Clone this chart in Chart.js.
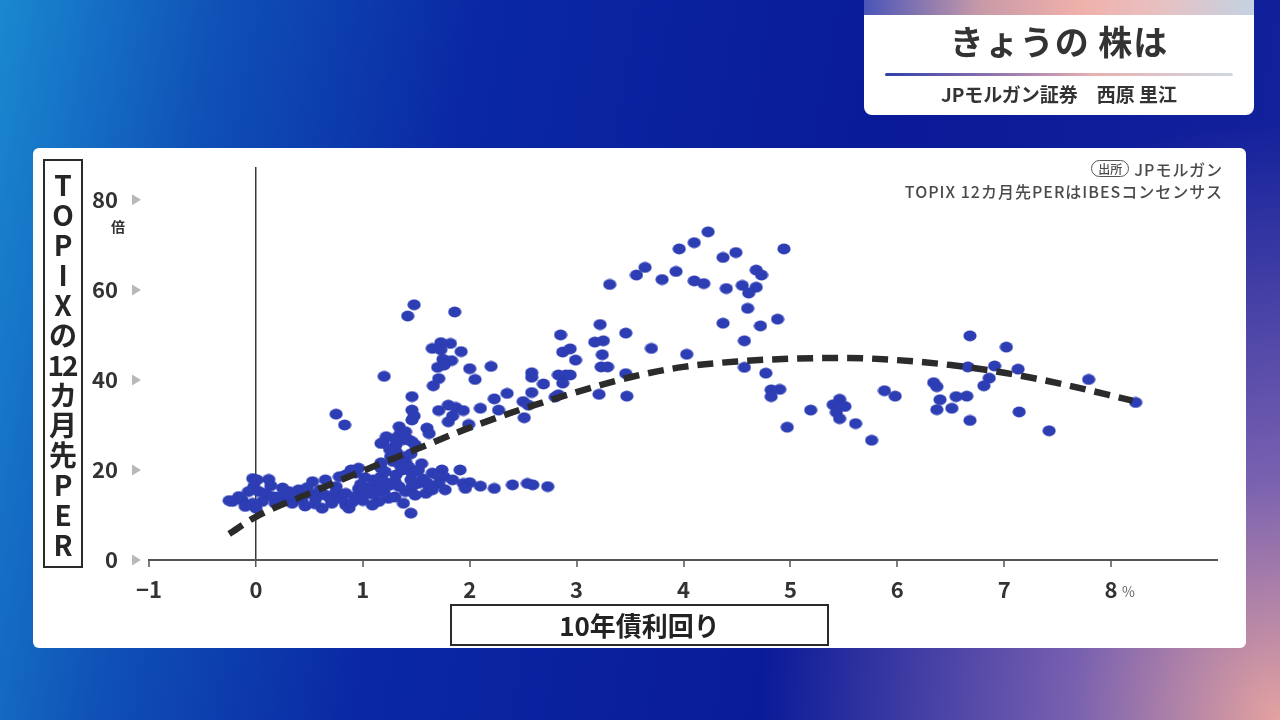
<!DOCTYPE html>
<html><head><meta charset="utf-8">
<script src="https://cdn.jsdelivr.net/npm/chart.js@4.4.1/dist/chart.umd.min.js"></script>
<style>
html,body{margin:0;padding:0;width:1280px;height:720px;overflow:hidden;font-family:"Noto Sans CJK JP","Noto Sans",sans-serif;}
#bg{position:absolute;left:0;top:0;width:1280px;height:720px;
background:
radial-gradient(ellipse 520px 600px at 100% 100%, rgba(240,170,160,0.95) 0%, rgba(190,140,190,0.6) 40%, rgba(30,40,160,0) 100%),
linear-gradient(100deg,#1a88d0 0%,#0f50b6 16%,#0a28a4 34%,#0a1a98 65%,#14229c 100%);}
#card{position:absolute;left:33px;top:148px;width:1213px;height:500px;background:#fff;border-radius:6px;}
#c{position:absolute;left:0;top:0;}
#titlebox{position:absolute;left:864px;top:-8px;width:390px;height:123px;background:#fff;border-radius:8px;overflow:hidden;}
#stripe{position:absolute;left:0;top:0;width:100%;height:23px;background:linear-gradient(90deg,#4a55b8 0%,#c89aa8 30%,#f0b0aa 55%,#e8c0c0 75%,#c4d2e2 100%);}
#title{position:absolute;left:0;top:27px;width:100%;text-align:center;font-size:34px;font-weight:700;color:#333;letter-spacing:1px;line-height:44px;}
#tline{position:absolute;left:21px;top:81px;width:348px;height:3px;background:linear-gradient(90deg,#3040a8 0%,#9a7ab0 35%,#e8b0b0 60%,#d0d8e2 100%);border-radius:2px;}
#subtitle{position:absolute;left:0;top:89px;width:100%;text-align:center;font-size:19px;font-weight:700;color:#333;line-height:26px;}
#ytitle{position:absolute;left:43px;top:159px;width:40px;height:409px;border:2px solid #2a2a2a;box-sizing:border-box;display:flex;flex-direction:column;justify-content:space-between;align-items:center;padding:9px 0 7px 0;}
#ytitle span{display:block;font-size:28px;line-height:29px;font-weight:600;color:#262626;text-align:center;}
#ytitle span.num{letter-spacing:-2px;margin-left:-2px;}
#xtitle{position:absolute;left:450px;top:604px;width:379px;height:42px;border:2px solid #2a2a2a;box-sizing:border-box;text-align:center;font-size:26px;font-weight:700;color:#222;line-height:37px;}
#src{position:absolute;right:57px;top:158px;text-align:right;color:#4a4a4a;font-size:16px;font-weight:500;line-height:22px;letter-spacing:1px;}
#src .pill{display:inline-block;border:1.5px solid #555;border-radius:9px;font-size:12px;line-height:15px;padding:0 6px;letter-spacing:0;vertical-align:2px;margin-right:5px;}
</style></head>
<body>
<div id="bg"></div>
<div id="card"></div>
<canvas id="c" width="1280" height="720"></canvas>
<div id="titlebox"><div id="stripe"></div><div id="title">きょうの 株は</div><div id="tline"></div><div id="subtitle">JPモルガン証券　西原 里江</div></div>
<div id="ytitle"><span>T</span><span>O</span><span>P</span><span>I</span><span>X</span><span>の</span><span class="num">12</span><span>カ</span><span>月</span><span>先</span><span>P</span><span>E</span><span>R</span></div>
<div id="xtitle">10年債利回り</div>
<div id="src"><div><span class="pill">出所</span>JPモルガン</div><div>TOPIX 12カ月先PERはIBESコンセンサス</div></div>
<script>
// 10-year bond yield (%)
const bondYield = [
4.23,4.10,3.96,4.94,4.37,4.49,3.64,3.56,3.31,3.80,3.93,4.10,4.19,4.40,4.55,4.68,4.73,4.68,4.61,4.60,4.37,4.72,4.88,4.57,3.22,3.46,2.85,3.17,3.25,3.70,4.03,2.87,2.94,2.99,3.24,3.23,3.29,3.46,2.83,2.90,2.94,2.87,2.83,3.21,3.47,4.57,4.77,4.82,4.90,4.82,5.19,4.97,
6.68,7.02,6.66,6.91,7.13,6.86,6.81,7.79,8.23,6.34,6.37,6.40,6.55,6.65,6.37,6.51,6.68,7.14,7.42,5.88,5.98,5.46,5.40,5.51,5.43,5.46,5.61,5.76,
1.48,1.42,1.86,1.20,0.75,0.83,1.65,1.73,1.82,1.73,1.92,1.75,1.83,1.70,1.76,2.00,2.20,2.05,1.71,1.66,1.46,1.46,1.48,1.46,1.71,1.80,1.87,1.94,1.84,1.80,2.10,2.23,2.35,2.27,1.99,2.51,2.58,2.58,2.69,2.58,2.50,2.55,2.80,1.17,1.22,1.34,1.35,1.40,1.43,
1.38,1.31,1.19,1.46,1.49,1.60,1.62,1.31,1.26,1.28,1.37,1.40,1.17,1.17,1.21,1.17,1.20,1.15,1.31,1.37,1.43,1.46,1.52,1.65,1.74,1.91,1.76,1.84,1.94,2.00,1.71,1.77,1.62,1.52,1.46,1.34,1.40,1.49,1.59,1.65,1.96,2.10,2.23,2.40,2.54,2.59,2.73,1.45,1.38,1.24,1.15,1.09,
0.31,0.40,0.50,0.56,0.65,0.75,0.84,0.93,1.03,0.62,0.84,0.87,0.71,0.34,0.43,0.53,0.65,0.78,0.84,0.93,0.96,0.89,
-0.22,-0.13,-0.03,0.01,0.12,-0.02,0.03,-0.07,0.09,0.15,0.06,-0.03,0.00,-0.10,-0.16,0.18,0.25,0.28,
0.20,0.36,0.46,0.55,0.60,0.70,0.80,0.90,1.00,1.05,1.10,1.20,1.25,1.30,0.96,0.75,0.48,1.10,1.02,1.30,1.56,1.60,1.70,1.45,1.35,1.55,1.25,1.30,1.45,0.25,0.14,-0.25,1.15,0.98
];
// TOPIX 12-month forward PER (times)
const forwardPER = [
72.9,70.5,69.1,69.1,67.2,68.3,65.0,63.3,61.2,62.3,64.1,62.0,61.4,60.3,61.0,64.4,63.3,60.6,59.3,55.9,52.6,52.0,53.5,48.7,52.3,50.4,50.0,48.4,48.7,47.0,45.7,46.2,46.9,44.4,45.6,42.9,42.9,41.4,41.1,41.1,41.1,39.3,36.7,36.8,36.4,42.8,41.5,37.8,37.9,36.3,33.3,29.5,
49.8,47.3,42.9,43.1,42.4,40.4,38.7,40.1,35.0,39.4,38.5,35.6,36.3,36.4,33.4,33.7,31.0,32.9,28.7,37.6,36.4,35.7,34.5,34.1,32.8,31.4,30.3,26.6,
56.7,54.2,55.1,40.8,32.4,30.0,47.0,48.3,48.1,46.7,46.3,44.6,44.3,42.8,43.3,42.5,43.0,40.1,40.3,38.7,36.3,33.3,32.0,31.1,33.2,34.4,33.9,33.2,32.0,30.7,33.7,35.8,37.0,33.3,30.1,31.6,41.6,40.6,39.1,37.2,35.2,34.4,36.2,25.9,27.4,29.6,28.1,28.5,26.7,
26.7,25.6,26.1,26.3,25.6,29.3,28.1,24.1,23.0,21.9,23.0,21.9,21.6,20.4,19.6,18.5,17.4,16.3,18.9,20.0,20.7,19.3,20.0,19.3,20.0,20.0,18.5,17.8,17.0,17.2,17.0,15.6,16.3,17.0,16.3,16.3,15.2,14.4,14.8,15.6,15.9,16.4,15.9,16.7,17.0,16.7,16.3,10.4,12.6,13.7,13.0,12.2,
15.2,15.6,14.8,13.7,14.4,15.2,14.8,14.1,14.8,11.5,12.2,11.5,12.6,12.6,13.3,17.4,17.8,18.5,18.9,19.3,20.4,20.0,
13.0,13.3,18.1,17.8,17.9,16.3,15.2,15.2,14.8,14.1,13.0,12.6,11.5,11.9,14.1,12.6,13.3,14.4,
14.0,14.2,12.0,12.5,15.6,13.5,13.6,12.8,13.2,16.0,14.5,15.0,16.6,14.0,15.8,16.3,16.1,17.8,18.3,17.5,18.0,17.2,18.8,17.8,21.0,21.4,24.6,27.0,23.6,16.0,16.5,13.2,15.4,16.8
];
// dashed trend curve
const trendYield = [-0.25,0,0.5,1,1.5,2,2.5,3,3.5,4,4.5,5,5.5,6,6.5,7,7.5,8.2];
const trendPER   = [5.8,9.6,14.8,19.8,24.6,29.4,33.6,37.3,40.6,42.9,44.1,44.7,44.9,44.4,43.3,41.6,39.3,35.4];
// axes
const xTicks = [-1,0,1,2,3,4,5,6,7,8];
const xTickLabels = ['−1','0','1','2','3','4','5','6','7','8'];
const yTicks = [0,20,40,60,80];
const yTickLabels = ['0','20','40','60','80'];

const FONT = '"Noto Sans CJK JP","Noto Sans",sans-serif';

// ellipse marker
const dot = document.createElement('canvas');
dot.width = 14; dot.height = 12;
(function(){const g=dot.getContext('2d');g.fillStyle='#2d3db4';g.beginPath();g.ellipse(7,6,6.6,5.4,0,0,Math.PI*2);g.fill();})();

const scatterPts = bondYield.map((v,i)=>({x:v,y:forwardPER[i]}));
const trendPts = trendYield.map((v,i)=>({x:v,y:trendPER[i]}));

const decor = {
  id:'decor',
  afterDraw(chart){
    const {ctx, scales:{x,y}, chartArea} = chart;
    ctx.save();
    ctx.fillStyle = '#b8b8b8';
    yTicks.forEach(v=>{
      const py = y.getPixelForValue(v);
      const lx = chartArea.left - 17;
      ctx.beginPath(); ctx.moveTo(lx,py-5.5); ctx.lineTo(lx+9,py); ctx.lineTo(lx,py+5.5); ctx.closePath(); ctx.fill();
    });
    ctx.fillStyle = '#333';
    ctx.font = '600 14px ' + FONT; ctx.textAlign='center'; ctx.textBaseline='middle';
    ctx.fillText('倍', 118, y.getPixelForValue(80)+27);
    ctx.fillStyle = '#666';
    ctx.font = '14px ' + FONT; ctx.textAlign='left';
    ctx.fillText('%', x.getPixelForValue(8)+11, 592);
    ctx.restore();
  }
};

new Chart(document.getElementById('c'), {
  type:'scatter',
  data:{datasets:[
    {type:'line', data:trendPts, borderColor:'#2b2b2b', borderWidth:6.5, borderDash:[16,9], pointRadius:0, fill:false, tension:0.4, cubicInterpolationMode:'monotone'},
    {data:scatterPts, pointStyle:dot, pointRadius:6, backgroundColor:'#2d3db4', borderWidth:0}
  ]},
  options:{
    responsive:false, animation:false,
    layout:{padding:{left:60, top:167, right:62, bottom:110}},
    plugins:{legend:{display:false}, tooltip:{enabled:false}},
    scales:{
      x:{type:'linear', min:-1, max:9,
        afterFit(s){s.height=50;},
        afterBuildTicks(s){s.ticks = xTicks.map(v=>({value:v}));},
        ticks:{callback:(v)=>{const i=xTicks.indexOf(v);return i>=0?xTickLabels[i]:'';}, font:{family:FONT,size:22,weight:'600'}, color:'#333', padding:9, maxRotation:0, autoSkip:false},
        grid:{color:(c)=> (c.tick && c.tick.value===0) ? '#3a3a3a' : 'rgba(0,0,0,0)', lineWidth:(c)=> (c.tick && c.tick.value===0) ? 1.5 : 0, drawTicks:true, tickLength:7, tickColor:'#555', tickWidth:1.5},
        border:{display:true, color:'#555', width:2}
      },
      y:{type:'linear', min:0, max:87.3,
        afterFit(s){s.width=89;},
        afterBuildTicks(s){s.ticks = yTicks.map(v=>({value:v}));},
        ticks:{callback:(v)=>{const i=yTicks.indexOf(v);return i>=0?yTickLabels[i]:'';}, font:{family:FONT,size:22,weight:'600'}, color:'#333', padding:23},
        grid:{display:false},
        border:{display:false}
      }
    }
  },
  plugins:[decor]
});
</script>
</body></html>
